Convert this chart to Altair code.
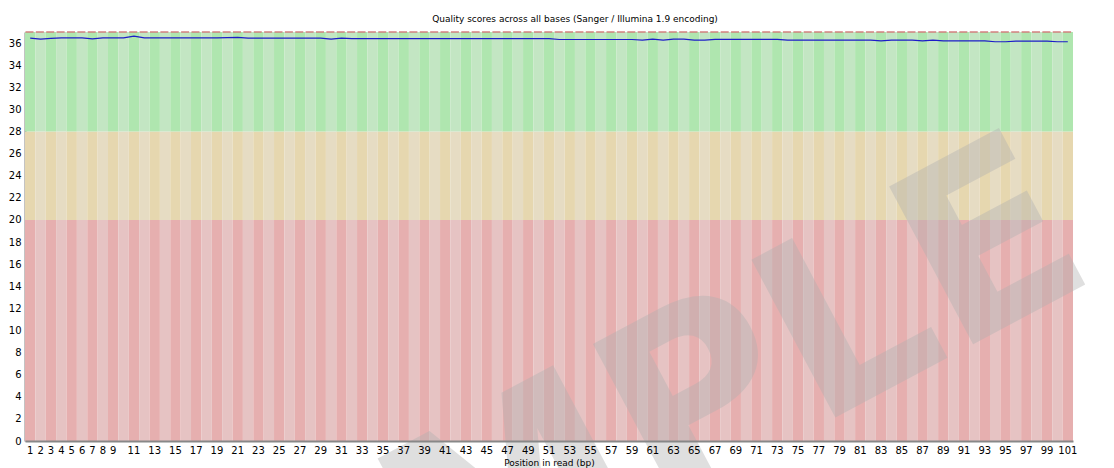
import altair as alt
import pandas as pd

# ---------------- data ----------------
positions = list(range(1, 102))

mean_quality = [
    36.45, 36.36, 36.42, 36.47, 36.47, 36.47, 36.38, 36.47, 36.47, 36.47,
    36.62, 36.47, 36.47, 36.47, 36.47, 36.47, 36.47, 36.47, 36.47, 36.50,
    36.52, 36.45, 36.45, 36.45, 36.45, 36.45, 36.45, 36.45, 36.45, 36.36,
    36.45, 36.40, 36.40, 36.40, 36.40, 36.40, 36.40, 36.40, 36.40, 36.40,
    36.40, 36.40, 36.40, 36.40, 36.40, 36.40, 36.40, 36.40, 36.40, 36.40,
    36.40, 36.32, 36.32, 36.32, 36.32, 36.32, 36.32, 36.32, 36.32, 36.26,
    36.35, 36.26, 36.35, 36.35, 36.26, 36.26, 36.33, 36.33, 36.33, 36.33,
    36.33, 36.33, 36.33, 36.27, 36.27, 36.27, 36.27, 36.27, 36.27, 36.27,
    36.27, 36.27, 36.20, 36.27, 36.27, 36.27, 36.20, 36.27, 36.20, 36.20,
    36.20, 36.20, 36.20, 36.12, 36.12, 36.18, 36.18, 36.18, 36.18, 36.12,
    36.12,
]

median_quality = [37] * 101

zone_names = ["poor", "reasonable", "good"]
zone_low = [0, 20, 28]
zone_high = [20, 28, 37]
zone_dark = ["#e6afaf", "#e6d7af", "#afe6af"]
zone_light = ["#e6c3c3", "#e6dcc3", "#c3e6c3"]

x_label_values = [1, 2, 3, 4, 5, 6, 7, 8, 9] + list(range(11, 102, 2))
y_tick_values = list(range(0, 37, 2))

watermark = ["SAMPLE"]

title_text = "Quality scores across all bases (Sanger / Illumina 1.9 encoding)"
x_title = "Position in read (bp)"

# ---------------- tables ----------------
rows = []
for p in positions:
    for i, z in enumerate(zone_names):
        rows.append({
            "pos": p,
            "zone": z,
            "lo": zone_low[i],
            "hi": zone_high[i],
            "fill": (zone_dark if p % 2 == 1 else zone_light)[i],
        })
bg_df = pd.DataFrame(rows)
q_df = pd.DataFrame({"pos": positions, "mean": mean_quality, "median": median_quality})
wm_df = pd.DataFrame({"label": watermark})

x_scale = alt.Scale(domain=positions, paddingInner=0, paddingOuter=0)
y_scale = alt.Scale(domain=[0, 37], nice=False, zero=True)

x_axis = alt.Axis(
    values=x_label_values, labelAngle=0, tickSize=0, ticks=False,
    domainColor="#888888", domainWidth=2, labelFontSize=10, labelPadding=4,
    labelColor="#000000", title=x_title, titleFontWeight="normal",
    titleFontSize=9, titlePadding=3, titleColor="#000000", grid=False,
    labelOverlap=False,
)
y_axis = alt.Axis(
    values=y_tick_values, tickSize=0, ticks=False, domainColor="#888888",
    domainWidth=2, labelFontSize=10, labelPadding=4, labelColor="#000000",
    title=None, grid=False,
)

X = alt.X("pos:O", scale=x_scale, sort=None, axis=x_axis)

bg = alt.Chart(bg_df).mark_rect(strokeWidth=0).encode(
    x=X,
    y=alt.Y("lo:Q", scale=y_scale, axis=y_axis),
    y2="hi:Q",
    color=alt.Color("fill:N", scale=None),
)

median = alt.Chart(q_df).mark_tick(color="#d27878", size=8, thickness=2, xOffset=-0.7).encode(
    x=X,
    y=alt.Y("median:Q", scale=y_scale, axis=y_axis),
)

mean_line = alt.Chart(q_df).mark_line(color="#1c1cc8", strokeWidth=1.2).encode(
    x=X,
    y=alt.Y("mean:Q", scale=y_scale, axis=y_axis),
)

wm = alt.Chart(wm_df).mark_text(
    font="DejaVu Sans", fontWeight="bold", fontSize=245, angle=332,
    align="center", baseline="middle", color="#b0b0b0", opacity=0.4,
).encode(
    text="label:N",
    x=alt.value(550),
    y=alt.value(440),
)

chart = alt.layer(bg, median, mean_line, wm).properties(
    width=1048,
    height=409,
    title=alt.TitleParams(
        text=title_text, fontSize=9, fontWeight="normal", color="#000000",
        anchor="middle", offset=7, font="DejaVu Sans", dx=26,
    ),
    autosize=alt.AutoSizeParams(type="none"),
    padding={"left": 17, "top": 24, "right": 33, "bottom": 27},
).configure(
    font="DejaVu Sans",
    background="white",
).configure_view(
    stroke=None,
)

chart.save("out.html", embed_options={"renderer": "svg", "actions": False})
